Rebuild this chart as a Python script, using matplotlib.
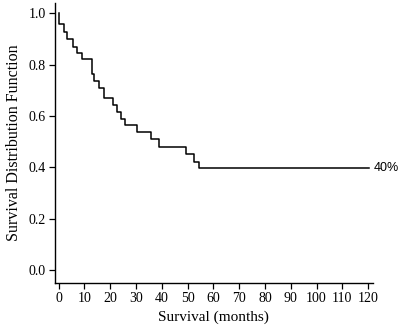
import matplotlib
matplotlib.use('Agg')
import matplotlib.pyplot as plt

# Kaplan-Meier survival estimate: event times (months) and survival after each drop
event_months = [0.3, 2.2, 3.4, 5.4, 7.0, 9.2, 12.9, 13.9, 15.8, 17.6, 21.0, 22.5,
                24.3, 25.8, 30.3, 35.9, 39.1, 49.3, 52.6, 54.3]
survival = [0.957, 0.927, 0.899, 0.869, 0.846, 0.821, 0.763, 0.735, 0.707, 0.669,
            0.643, 0.616, 0.590, 0.563, 0.536, 0.509, 0.480, 0.451, 0.419, 0.396]
follow_up_end = 120.5
x_ticks = list(range(0, 121, 10))
y_ticks = [0.0, 0.2, 0.4, 0.6, 0.8, 1.0]

plt.rcParams['font.family'] = 'Liberation Serif'

fig = plt.figure(figsize=(4, 3.26), dpi=100)
ax = fig.add_axes([0.1375, 0.132, 0.7945, 0.859])

times = [0.0] + event_months + [follow_up_end]
values = [1.0] + survival + [survival[-1]]
ax.step(times, values, where='post', color='black', linewidth=1.1)

ax.text(follow_up_end + 1.5, survival[-1], f'{round(survival[-1] * 100)}%',
        family='Liberation Sans', fontsize=9, va='center', ha='left')

ax.set_xlim(-1.4, 121.8)
ax.set_ylim(-0.05, 1.04)
ax.set_xticks(x_ticks)
ax.set_yticks(y_ticks)
ax.set_yticklabels([f'{v:.1f}' for v in y_ticks])
ax.tick_params(direction='out', length=4, width=0.9, labelsize=10, pad=2.5)
for side in ['top', 'right']:
    ax.spines[side].set_visible(False)
for side in ['left', 'bottom']:
    ax.spines[side].set_linewidth(1.0)

ax.set_xlabel('Survival (months)', fontsize=11, labelpad=4)
ax.set_ylabel('Survival Distribution Function', fontsize=11.5, labelpad=5)

fig.savefig('out.png', dpi=100)
